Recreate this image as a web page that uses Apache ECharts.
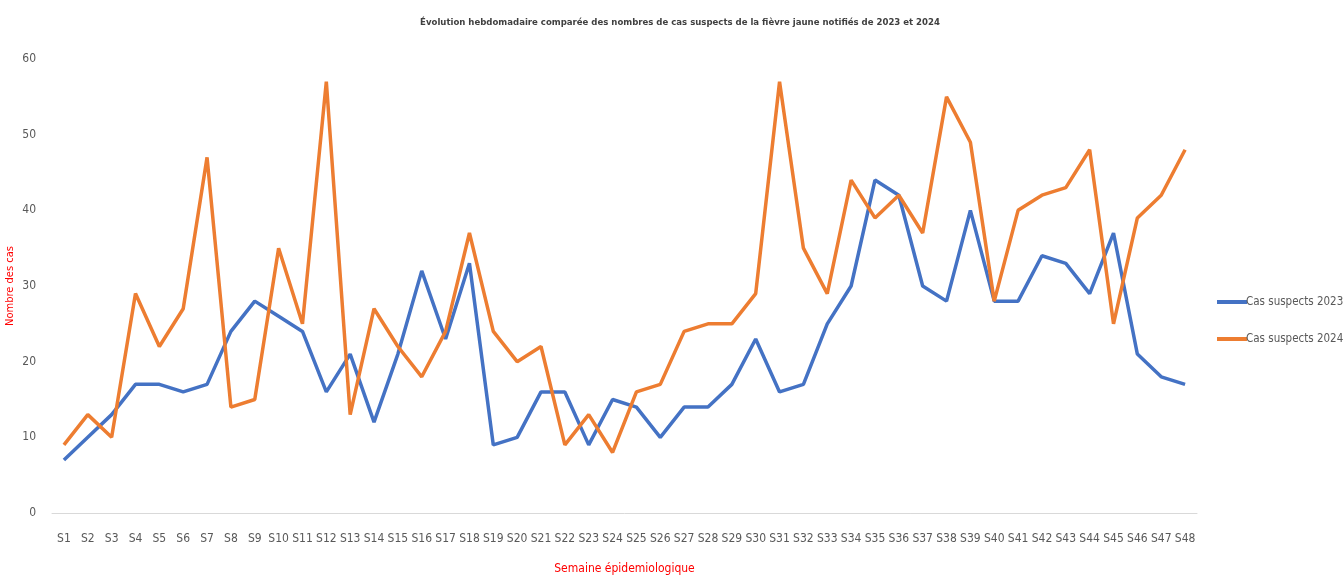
<!DOCTYPE html>
<html>
<head>
<meta charset="utf-8">
<script src="https://cdn.jsdelivr.net/npm/echarts@6/dist/echarts.min.js"></script>
<style>
	html, body { margin: 0; padding: 0; background: #fff; }
	#chart { width: 1344px; height: 576px; }
</style>
</head>
<body>
<div id="chart"></div>
<script>
var weeks = [];
for (var i = 1; i <= 48; i++) { weeks.push('S' + i); }

var cas2023 = [7, 10, 13, 17, 17, 16, 17, 24, 28, 26, 24, 16, 21, 12, 21, 32, 23, 33, 9, 10,
	16, 16, 9, 15, 14, 10, 14, 14, 17, 23, 16, 17, 25, 30, 44, 42, 30, 28, 40, 28,
	28, 34, 33, 29, 37, 21, 18, 17];
var cas2024 = [9, 13, 10, 29, 22, 27, 47, 14, 15, 35, 25, 57, 13, 27, 22, 18, 24, 37, 24, 20,
	22, 9, 13, 8, 16, 17, 24, 25, 25, 29, 57, 35, 29, 44, 39, 42, 37, 55, 49, 28,
	40, 42, 43, 48, 25, 39, 42, 48];

var narrow = '"DejaVu Sans Condensed", "Liberation Sans Narrow", sans-serif';

var myChart = echarts.init(document.getElementById('chart'));
var option = {
	backgroundColor: '#ffffff',
	animation: false,
	title: {
		text: 'Évolution hebdomadaire comparée des nombres de cas suspects de la fièvre jaune notifiés de 2023 et 2024',
		left: 675,
		textAlign: 'center',
		top: 13,
		textStyle: { fontFamily: narrow, fontSize: 9.5, fontWeight: 'bold', color: '#404040' }
	},
	legend: {
		orient: 'vertical',
		left: 1217,
		top: 296,
		itemGap: 25,
		itemWidth: 30,
		itemHeight: 4,
		icon: 'rect',
		padding: 0,
		data: ['Cas suspects 2023', 'Cas suspects 2024'],
		textStyle: { fontFamily: narrow, fontSize: 11.5, color: '#595959', padding: [0, 0, 0, -6] }
	},
	grid: { left: 52, right: 147, top: 59, bottom: 63, outerBoundsMode: 'none' },
	xAxis: {
		type: 'category',
		data: weeks,
		name: 'Semaine épidemiologique',
		nameLocation: 'middle',
		nameGap: 50,
		nameTextStyle: { color: '#ff0000', fontFamily: narrow, fontSize: 12 },
		axisLine: { lineStyle: { color: '#d9d9d9', width: 1 } },
		axisTick: { show: false },
		axisLabel: { interval: 0, color: '#595959', fontFamily: narrow, fontSize: 12, margin: 20 }
	},
	yAxis: {
		type: 'value',
		min: 0,
		max: 60,
		interval: 10,
		name: 'Nombre des cas',
		nameLocation: 'middle',
		nameGap: 36,
		nameMoveOverlap: false,
		nameTextStyle: { color: '#ff0000', fontFamily: narrow, fontSize: 11 },
		splitLine: { show: false },
		axisLine: { show: false },
		axisTick: { show: false },
		axisLabel: { color: '#595959', fontFamily: narrow, fontSize: 12, margin: 16 }
	},
	series: [
		{
			name: 'Cas suspects 2023',
			type: 'line',
			data: cas2023,
			symbol: 'none',
			color: '#4472C4',
			lineStyle: { width: 3.5, color: '#4472C4' }
		},
		{
			name: 'Cas suspects 2024',
			type: 'line',
			data: cas2024,
			symbol: 'none',
			color: '#ED7D31',
			lineStyle: { width: 3.5, color: '#ED7D31' }
		}
	]
};
myChart.setOption(option);
</script>
</body>
</html>
